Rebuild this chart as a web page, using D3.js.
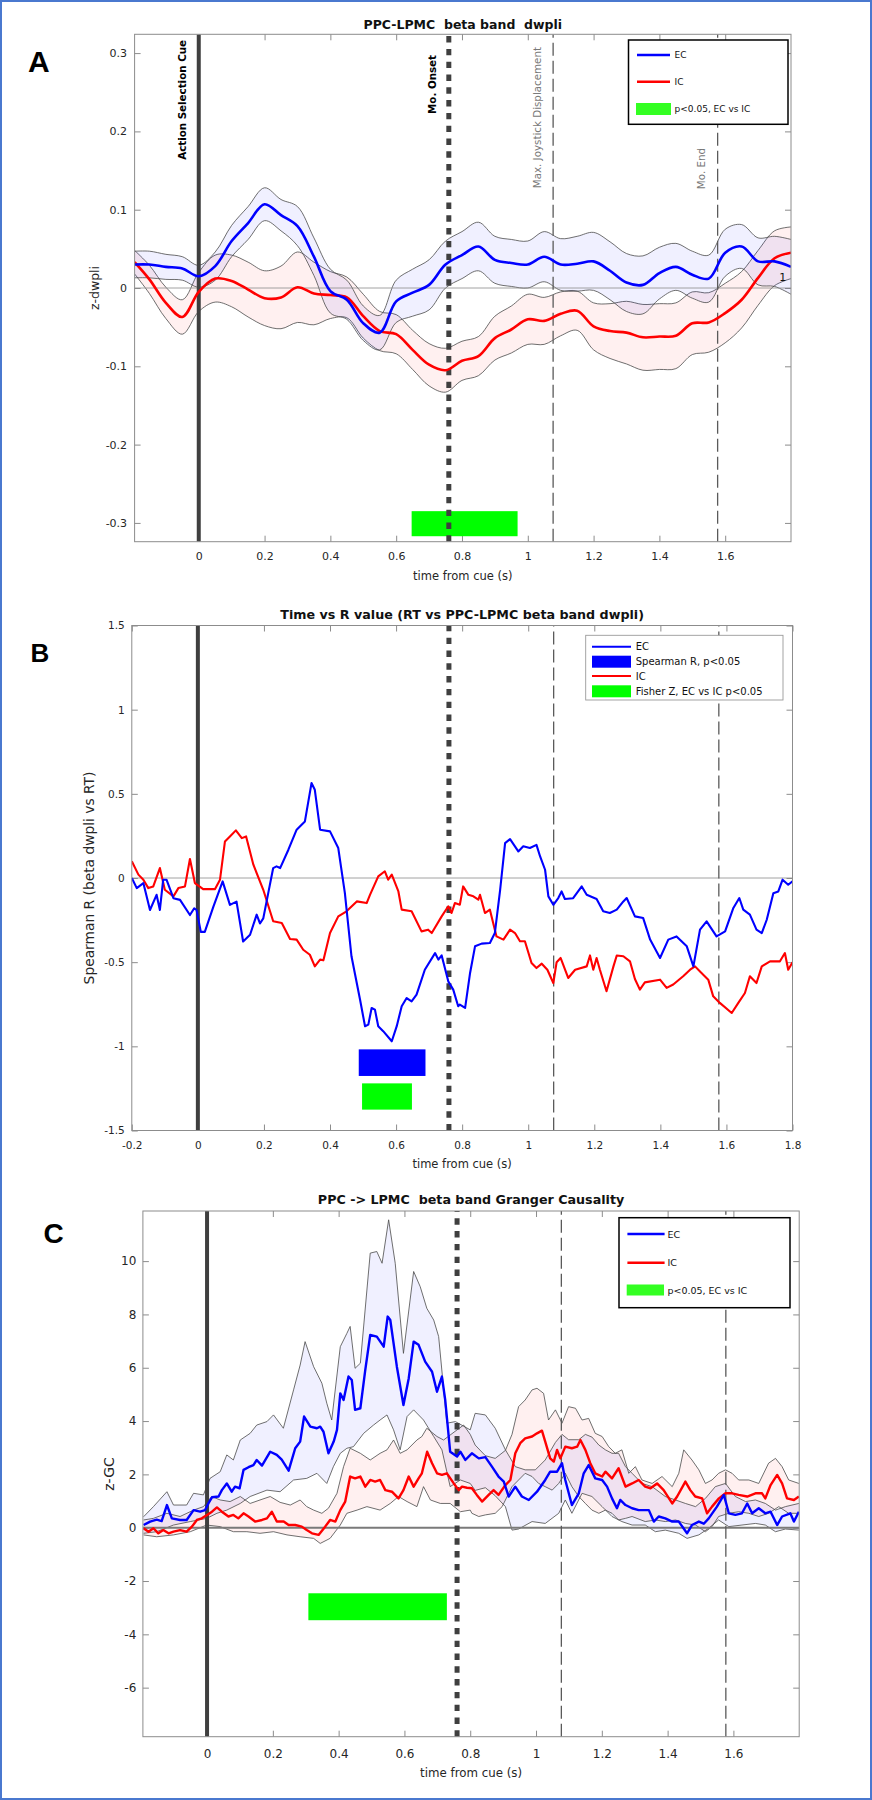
<!DOCTYPE html>
<html><head><meta charset="utf-8">
<script src="https://cdn.jsdelivr.net/npm/d3@7"></script>
<style>
body{margin:0;background:#fff}
text{font-family:'DejaVu Sans',sans-serif;white-space:pre}
</style></head>
<body><svg id="c" width="872" height="1800"></svg>
<script>
// ---------------- DATA ----------------
// Panel A : PPC-LPMC beta band dwpli
const aTime = [-0.195,-0.15,-0.1,-0.05,0,0.05,0.1,0.15,0.2,0.25,0.3,0.35,0.4,0.45,0.5,0.55,0.6,0.65,0.7,0.75,0.8,0.85,0.9,0.95,1.0,1.05,1.1,1.15,1.2,1.25,1.3,1.35,1.4,1.45,1.5,1.55,1.6,1.65,1.7,1.75,1.8];
const aEC = [0.030,0.030,0.027,0.025,0.015,0.028,0.060,0.083,0.107,0.093,0.079,0.040,-0.004,-0.015,-0.045,-0.057,-0.017,-0.006,0.004,0.030,0.042,0.053,0.036,0.032,0.030,0.040,0.030,0.031,0.034,0.022,0.007,0.004,0.019,0.027,0.017,0.012,0.045,0.053,0.034,0.034,0.027];
const aECsem = [0.017,0.017,0.016,0.015,0.014,0.018,0.020,0.021,0.021,0.020,0.025,0.024,0.028,0.025,0.022,0.022,0.027,0.030,0.032,0.030,0.030,0.031,0.030,0.030,0.030,0.032,0.033,0.035,0.037,0.037,0.037,0.037,0.033,0.030,0.030,0.030,0.030,0.028,0.030,0.032,0.035];
const aIC = [0.033,0.011,-0.019,-0.037,-0.005,0.012,0.009,-0.002,-0.013,-0.012,0.001,-0.007,-0.009,-0.012,-0.036,-0.055,-0.059,-0.079,-0.098,-0.105,-0.093,-0.087,-0.064,-0.053,-0.040,-0.042,-0.033,-0.029,-0.049,-0.055,-0.057,-0.063,-0.062,-0.061,-0.045,-0.044,-0.032,-0.015,0.013,0.038,0.045];
const aICsem = [0.015,0.018,0.020,0.022,0.025,0.030,0.033,0.035,0.035,0.040,0.045,0.040,0.030,0.026,0.028,0.025,0.025,0.025,0.027,0.028,0.025,0.025,0.028,0.030,0.032,0.030,0.028,0.025,0.030,0.035,0.040,0.042,0.042,0.042,0.040,0.038,0.038,0.036,0.035,0.035,0.033];
const aSig = [0.647, 0.969];          // p<0.05 window (s)
const aSigY = [-0.285, -0.317];
const aXTicks = [0,0.2,0.4,0.6,0.8,1,1.2,1.4,1.6];
const aYTicks = [-0.3,-0.2,-0.1,0,0.1,0.2,0.3];

// Panel B : Spearman R
const bEcT = [-0.2,-0.185,-0.165,-0.145,-0.125,-0.115,-0.105,-0.095,-0.074,-0.054,-0.024,-0.011,-0.004,0.009,0.021,0.047,0.075,0.097,0.117,0.137,0.158,0.178,0.188,0.198,0.213,0.228,0.238,0.249,0.274,0.299,0.324,0.344,0.354,0.370,0.400,0.425,0.445,0.465,0.491,0.506,0.516,0.526,0.536,0.546,0.561,0.587,0.602,0.617,0.632,0.647,0.662,0.687,0.718,0.728,0.738,0.758,0.773,0.788,
  0.793,0.809,0.824,0.839,0.859,0.884,0.899,0.915,0.930,0.945,0.970,0.985,1.005,1.025,1.036,1.051,1.061,1.076,1.091,1.101,1.111,1.136,1.162,1.177,1.207,1.227,1.247,1.268,1.288,1.298,1.323,1.348,1.369,1.399,1.424,1.449,1.480,1.500,1.520,1.540,1.570,1.596,1.621,1.639,1.651,1.671,1.691,1.707,1.722,1.742,1.757,1.770,1.787,1.8];
const bEcR = [0.0,-0.06,-0.03,-0.19,-0.10,-0.19,-0.01,-0.01,-0.12,-0.13,-0.22,-0.18,-0.19,-0.32,-0.32,-0.17,-0.02,-0.16,-0.14,-0.377,-0.337,-0.218,-0.27,-0.24,-0.09,0.059,0.069,0.059,0.168,0.287,0.336,0.564,0.524,0.287,0.277,0.178,-0.09,-0.465,-0.723,-0.881,-0.871,-0.772,-0.782,-0.881,-0.91,-0.97,-0.88,-0.762,-0.713,-0.733,-0.693,-0.545,-0.446,-0.485,-0.46,-0.614,-0.663,-0.762,
  -0.752,-0.772,-0.564,-0.406,-0.39,-0.386,-0.327,-0.07,0.207,0.231,0.158,0.188,0.178,0.197,0.128,0.049,-0.109,-0.159,-0.119,-0.08,-0.125,-0.12,-0.05,-0.1,-0.125,-0.198,-0.208,-0.188,-0.139,-0.119,-0.228,-0.238,-0.366,-0.475,-0.366,-0.347,-0.406,-0.525,-0.307,-0.258,-0.347,-0.317,-0.178,-0.119,-0.188,-0.218,-0.307,-0.327,-0.248,-0.09,-0.08,-0.01,-0.04,-0.02];
const bIcT = [-0.2,-0.180,-0.165,-0.150,-0.135,-0.115,-0.100,-0.074,-0.059,-0.039,-0.024,-0.009,0.016,0.052,0.067,0.082,0.097,0.115,0.133,0.146,0.168,0.198,0.228,0.254,0.279,0.299,0.319,0.339,0.354,0.370,0.380,0.400,0.425,0.450,0.481,0.511,0.521,0.546,0.566,0.576,0.587,0.607,0.617,0.647,0.677,0.697,0.708,0.738,0.758,0.768,0.778,0.793,
  0.803,0.819,0.834,0.849,0.854,0.869,0.884,0.904,0.925,0.945,0.960,0.975,0.990,1.010,1.025,1.041,1.058,1.076,1.086,1.098,1.121,1.142,1.177,1.187,1.197,1.207,1.217,1.237,1.258,1.268,1.288,1.308,1.323,1.338,1.353,1.399,1.419,1.439,1.469,1.490,1.505,1.520,1.545,1.560,1.580,1.616,1.636,1.656,1.671,1.691,1.707,1.732,1.762,1.777,1.787,1.8];
const bIcR = [0.099,0.02,-0.01,-0.06,-0.05,0.059,-0.07,-0.109,-0.06,-0.05,0.113,-0.03,-0.066,-0.066,-0.01,0.217,0.247,0.283,0.237,0.247,0.079,-0.07,-0.257,-0.267,-0.362,-0.366,-0.426,-0.456,-0.525,-0.485,-0.489,-0.327,-0.228,-0.198,-0.139,-0.149,-0.1,0.01,0.04,-0.01,0.02,-0.08,-0.188,-0.198,-0.317,-0.307,-0.327,-0.228,-0.168,-0.208,-0.149,-0.159,
  -0.05,-0.1,-0.109,-0.129,-0.1,-0.208,-0.188,-0.347,-0.366,-0.307,-0.327,-0.376,-0.376,-0.505,-0.535,-0.509,-0.545,-0.624,-0.5,-0.475,-0.594,-0.545,-0.525,-0.46,-0.545,-0.475,-0.545,-0.673,-0.525,-0.46,-0.465,-0.495,-0.6,-0.663,-0.62,-0.604,-0.653,-0.633,-0.584,-0.545,-0.525,-0.555,-0.604,-0.703,-0.742,-0.802,-0.742,-0.683,-0.584,-0.624,-0.525,-0.495,-0.495,-0.446,-0.545,-0.5];
const bSigSpearman = [0.487, 0.689], bSigSpearmanY = [-1.018, -1.176];
const bSigFisher = [0.497, 0.648], bSigFisherY = [-1.22, -1.376];
const bXTicks = [-0.2,0,0.2,0.4,0.6,0.8,1,1.2,1.4,1.6,1.8];
const bYTicks = [-1.5,-1,-0.5,0,0.5,1,1.5];

// Panel C : Granger causality
const cEcT = [-0.193,-0.173,-0.153,-0.138,-0.122,-0.107,-0.082,-0.062,-0.041,-0.021,-0.006,0.004,0.015,0.035,0.045,0.060,0.075,0.085,0.099,0.111,0.126,0.141,0.151,0.167,0.192,0.212,0.227,0.248,0.268,0.283,0.295,0.314,0.334,0.344,0.354,0.369,0.385,0.395,0.405,0.415,0.430,0.440,0.450,0.466,0.481,0.496,0.516,0.537,0.549,0.557,0.577,0.597,0.613,0.628,0.643,0.663,0.684,0.699,0.714,0.724,0.739,0.760,0.770,
  0.785,0.805,0.826,0.846,0.866,0.886,0.902,0.917,0.937,0.957,0.978,1.003,1.028,1.043,1.064,1.079,1.089,1.109,1.130,1.145,1.160,1.180,1.201,1.216,1.231,1.246,1.256,1.272,1.292,1.312,1.343,1.358,1.373,1.393,1.414,1.434,1.459,1.474,1.495,1.510,1.525,1.550,1.571,1.586,1.606,1.626,1.642,1.657,1.677,1.697,1.713,1.733,1.748,1.773,1.784,1.799];
const cEc = [0.10,0.23,0.30,0.25,0.85,0.35,0.29,0.29,0.66,0.60,0.66,0.91,1.14,1.17,1.41,1.66,1.35,1.54,1.48,2.17,2.27,2.35,2.54,2.33,2.85,2.73,2.55,2.14,2.98,3.23,4.17,3.79,3.73,3.79,3.60,2.79,3.23,3.67,5.04,4.79,5.67,5.54,4.42,4.48,5.92,7.23,7.17,6.79,7.92,7.79,6.04,4.60,5.60,6.98,6.86,6.23,5.85,5.10,5.67,4.79,2.85,2.67,2.85,
  2.54,2.79,2.60,2.65,2.29,1.92,1.73,1.17,1.54,1.17,1.04,1.35,1.79,2.10,2.10,2.42,1.79,0.85,1.29,2.04,2.35,1.85,1.79,1.54,1.10,0.73,1.04,0.85,0.73,0.66,0.66,0.23,0.42,0.35,0.23,0.23,-0.21,0.10,0.23,0.15,0.35,0.79,1.23,0.54,0.48,0.54,0.91,0.54,0.73,0.54,0.60,0.10,0.42,0.54,0.23,0.60];
const cIcT = [-0.193,-0.178,-0.163,-0.148,-0.133,-0.117,-0.102,-0.082,-0.062,-0.046,-0.031,-0.016,0.000,0.015,0.030,0.045,0.065,0.080,0.095,0.111,0.126,0.146,0.167,0.182,0.197,0.212,0.233,0.248,0.268,0.288,0.303,0.319,0.339,0.359,0.374,0.390,0.405,0.420,0.435,0.450,0.466,0.481,0.496,0.511,0.526,0.542,0.562,0.582,0.597,0.613,0.628,0.643,0.653,0.669,0.684,0.699,0.714,0.729,0.750,0.765,0.775,0.790,
  0.805,0.820,0.836,0.856,0.871,0.886,0.907,0.922,0.937,0.952,0.967,0.988,1.003,1.018,1.028,1.043,1.054,1.064,1.074,1.089,1.109,1.125,1.135,1.150,1.165,1.180,1.201,1.211,1.231,1.251,1.272,1.292,1.312,1.332,1.348,1.368,1.388,1.414,1.429,1.454,1.469,1.484,1.505,1.520,1.535,1.556,1.576,1.596,1.616,1.642,1.667,1.687,1.697,1.713,1.733,1.748,1.763,1.784,1.799];
const cIc = [-0.02,-0.15,-0.02,-0.21,-0.09,-0.21,-0.15,-0.09,-0.15,0.04,0.29,0.35,0.48,0.60,0.76,0.60,0.42,0.48,0.35,0.54,0.42,0.23,0.29,0.35,0.60,0.23,0.23,0.10,0.10,0.04,-0.09,-0.21,-0.27,0.04,0.29,0.23,0.66,0.98,1.92,1.85,1.92,1.54,1.79,1.73,1.79,1.41,1.35,1.10,1.41,1.92,1.54,1.85,2.04,2.85,2.42,2.04,1.98,2.04,1.66,1.41,1.54,1.50,
  1.48,1.23,0.98,1.23,1.41,1.23,1.60,1.79,2.79,3.17,3.35,3.42,3.54,3.64,3.23,2.60,2.48,2.92,2.60,3.04,2.98,3.04,3.29,2.92,2.42,2.04,1.92,2.10,1.85,2.23,1.54,1.66,1.79,1.54,1.48,1.66,1.41,0.91,1.17,1.73,1.41,1.17,1.10,0.54,0.79,1.10,1.29,1.29,1.23,1.17,1.29,1.29,1.10,1.60,1.98,1.66,1.10,1.04,1.17];
const cEcUpT = [-0.193,-0.163,-0.122,-0.102,-0.062,-0.041,-0.011,0.009,0.040,0.060,0.080,0.101,0.131,0.151,0.182,0.202,0.232,0.263,0.283,0.298,0.324,0.349,0.364,0.379,0.405,0.425,0.435,0.450,0.466,0.496,0.516,0.532,0.552,0.572,0.597,0.628,0.648,0.668,0.689,0.704,0.729,0.755,0.800,
  0.815,0.846,0.876,0.907,0.937,0.967,0.998,1.028,1.059,1.079,1.099,1.130,1.150,1.170,1.191,1.211,1.231,1.251,1.272,1.292,1.322,1.353,1.393,1.424,1.454,1.485,1.515,1.545,1.576,1.606,1.637,1.667,1.697,1.728,1.758,1.799];
const cEcUp = [0.41,0.79,1.35,0.85,0.85,1.29,1.23,1.85,2.10,2.73,2.54,3.29,3.54,3.85,3.98,4.23,3.73,5.17,6.10,6.98,6.04,5.42,4.67,4.04,6.79,7.29,7.55,5.98,6.17,10.30,10.36,9.92,11.55,9.92,6.54,9.61,9.04,8.23,7.79,7.17,3.92,3.98,3.67,
  4.29,4.23,3.73,2.92,2.29,2.17,2.17,2.54,3.20,3.50,3.30,3.30,3.50,3.40,3.10,2.92,2.79,2.79,2.29,2.04,1.66,1.54,1.17,1.04,0.91,0.79,1.10,1.54,1.66,1.17,0.98,1.04,0.91,0.66,0.79,0.91];
const cEcLoT = [-0.193,-0.153,-0.102,-0.051,-0.001,0.030,0.060,0.101,0.131,0.182,0.222,0.263,0.303,0.334,0.364,0.384,0.405,0.425,0.445,0.476,0.506,0.526,0.547,0.567,0.587,0.608,0.628,0.658,0.689,0.714,0.739,0.770,0.800,
  0.815,0.846,0.876,0.907,0.927,0.947,0.988,1.028,1.069,1.089,1.109,1.140,1.170,1.201,1.231,1.261,1.292,1.332,1.363,1.393,1.434,1.459,1.495,1.525,1.555,1.586,1.626,1.667,1.697,1.728,1.758,1.799];
const cEcLo = [-0.21,-0.15,0.10,0.23,0.35,0.54,0.66,0.91,1.17,1.41,1.35,1.79,1.85,2.04,1.66,2.29,2.79,2.98,3.04,3.54,3.85,4.04,4.23,3.67,2.92,4.17,4.42,4.04,3.42,2.92,1.54,1.79,1.66,
  1.40,1.50,1.20,0.79,-0.09,-0.05,0.23,0.16,0.54,1.04,0.54,1.29,1.17,0.79,0.42,0.23,0.10,0.10,-0.15,-0.09,-0.21,-0.40,-0.27,-0.02,0.29,0.04,0.10,0.16,0.10,-0.15,-0.05,-0.09];
const cIcUpT = [-0.193,-0.163,-0.122,-0.082,-0.041,-0.011,0.014,0.040,0.070,0.101,0.131,0.161,0.192,0.222,0.253,0.283,0.303,0.324,0.349,0.369,0.395,0.415,0.435,0.466,0.496,0.526,0.547,0.567,0.587,0.608,0.638,0.653,0.668,0.699,0.719,0.760,0.780,0.800,
  0.815,0.846,0.876,0.907,0.927,0.947,0.967,0.988,1.003,1.023,1.038,1.059,1.079,1.099,1.120,1.140,1.160,1.180,1.201,1.221,1.241,1.261,1.282,1.302,1.322,1.353,1.383,1.414,1.434,1.449,1.474,1.495,1.515,1.535,1.555,1.576,1.596,1.616,1.647,1.677,1.707,1.728,1.748,1.768,1.799];
const cIcUp = [0.29,0.35,0.54,0.42,0.66,0.79,1.17,1.04,0.98,1.17,0.91,1.04,1.17,0.95,0.85,1.04,0.79,0.66,0.54,0.73,1.29,2.29,2.98,2.79,2.54,2.79,2.92,3.29,2.79,2.92,3.29,3.42,3.73,3.42,3.29,3.67,3.85,3.50,
  3.10,2.70,2.60,2.90,3.50,4.54,4.79,5.17,5.23,5.04,4.04,4.42,3.92,4.54,4.48,4.04,4.10,3.54,3.42,3.04,2.79,2.92,2.04,2.29,1.79,1.66,1.92,1.54,2.04,2.92,2.54,2.17,1.66,1.79,2.04,2.17,2.04,1.79,1.79,1.66,2.42,2.60,2.29,1.79,1.66];
const cIcLoT = [-0.193,-0.153,-0.102,-0.051,-0.001,0.040,0.080,0.121,0.161,0.202,0.243,0.283,0.324,0.344,0.374,0.405,0.425,0.456,0.486,0.526,0.557,0.582,0.608,0.638,0.658,0.679,0.709,0.739,0.770,0.800,
  0.805,0.826,0.846,0.876,0.897,0.927,0.947,0.967,0.988,1.008,1.028,1.049,1.069,1.089,1.109,1.130,1.150,1.170,1.191,1.211,1.231,1.251,1.272,1.292,1.332,1.363,1.393,1.424,1.454,1.485,1.515,1.535,1.555,1.586,1.616,1.647,1.677,1.707,1.738,1.768,1.799];
const cIcLo = [-0.27,-0.34,-0.27,-0.15,0.10,0.04,-0.15,-0.15,-0.21,-0.15,-0.27,-0.34,-0.40,-0.59,-0.40,0.10,0.54,0.66,0.79,0.66,0.91,1.17,0.98,0.79,1.54,1.04,0.91,0.91,0.60,0.66,
  0.54,0.42,0.48,0.54,0.79,1.54,1.79,2.04,1.92,1.66,1.54,1.41,1.66,2.04,1.54,1.17,0.91,0.66,0.54,0.66,0.54,0.29,0.35,0.42,0.23,0.29,0.23,0.29,0.16,0.10,-0.15,0.04,0.42,0.54,0.60,0.54,0.42,0.54,0.79,0.54,0.54];
const cSig = [0.308, 0.729], cSigY = [-2.46, -3.47];
const cXTicks = [0,0.2,0.4,0.6,0.8,1,1.2,1.4,1.6];
const cYTicks = [-6,-4,-2,0,2,4,6,8,10];

// event markers (s)
const evCue = 0, evOnset = 0.76, evMaxJoy = 1.077, evEnd = 1.577;

// ---------------- DRAWING ----------------
const svg = d3.select("#c");
const BLUE = "#0000ff", RED = "#ff0000", GREEN = "#00ff00";
const fmt = d => String(d);

function makeAxes(id, xr, xd, yr, yd, xt, yt, o) {
  const g = svg.append("g");
  const x = d3.scaleLinear().domain(xd).range(xr);
  const y = d3.scaleLinear().domain(yd).range(yr);
  g.append("clipPath").attr("id", id).append("rect")
    .attr("x", xr[0]).attr("y", yr[1]).attr("width", xr[1]-xr[0]).attr("height", yr[0]-yr[1]);
  const axStyle = sel => {
    sel.select(".domain").remove();
    sel.selectAll(".tick line").attr("stroke", "#8c8c8c").attr("stroke-width", 1);
    sel.selectAll("text").attr("fill", "#262626").style("font-family", "'DejaVu Sans',sans-serif").attr("font-size", o.tickFs);
  };
  g.append("g").attr("transform", `translate(0,${yr[0]})`)
    .call(d3.axisBottom(x).tickValues(xt).tickFormat(fmt).tickSize(-6).tickPadding(o.xPad)).call(axStyle);
  g.append("g").attr("transform", `translate(0,${yr[1]})`)
    .call(d3.axisTop(x).tickValues(xt).tickFormat("").tickSize(-6)).call(axStyle);
  g.append("g").attr("transform", `translate(${xr[0]},0)`)
    .call(d3.axisLeft(y).tickValues(yt).tickFormat(fmt).tickSize(-6).tickPadding(o.yPad)).call(axStyle);
  g.append("g").attr("transform", `translate(${xr[1]},0)`)
    .call(d3.axisRight(y).tickValues(yt).tickFormat("").tickSize(-6)).call(axStyle);
  const plot = g.append("g").attr("clip-path", `url(#${id})`);
  const over = g.append("g");
  over.append("rect").attr("x", xr[0]).attr("y", yr[1]).attr("width", xr[1]-xr[0]).attr("height", yr[0]-yr[1])
    .attr("fill", "none").attr("stroke", "#8c8c8c").attr("stroke-width", 1);
  // title + labels
  const cx = (xr[0]+xr[1])/2;
  g.append("text").attr("x", cx).attr("y", o.titleY).attr("text-anchor", "middle").attr("dominant-baseline", "central")
    .attr("font-weight", "bold").attr("font-size", o.titleFs).attr("fill", "#111").text(o.title);
  g.append("text").attr("x", cx).attr("y", o.xLabY).attr("text-anchor", "middle").attr("dominant-baseline", "central")
    .attr("font-size", o.xLabFs).attr("fill", "#262626").text("time from cue (s)");
  g.append("text").attr("transform", `translate(${o.yLabX},${o.yLabY}) rotate(-90)`).attr("text-anchor", "middle")
    .attr("dominant-baseline", "central").attr("font-size", o.yLabFs).attr("fill", "#262626").text(o.yLab);
  g.append("text").attr("x", o.letter[0]).attr("y", o.letter[1]).attr("font-weight", "bold")
    .attr("font-size", o.letter[2]).style("font-family", "'Liberation Sans',Arial,sans-serif").attr("fill", "#000").text(o.letter[3]);
  return {g, x, y, plot, over, xr, yr};
}

function eventLines(P) {
  const {plot, x, yr} = P;
  const vl = (t, st, w, dash) => plot.append("line").attr("x1", x(t)).attr("x2", x(t)).attr("y1", yr[0]).attr("y2", yr[1])
    .attr("stroke", st).attr("stroke-width", w).attr("stroke-dasharray", dash || null);
  vl(evMaxJoy, "#5a5a5a", 1.3, "13,5");
  vl(evEnd, "#5a5a5a", 1.3, "13,5");
  vl(evCue, "#3f3f3f", 4);
  vl(evOnset, "#3f3f3f", 5, "6.4,6.4");
}

function zeroLine(P, w, col) {
  P.plot.append("line").attr("x1", P.xr[0]).attr("x2", P.xr[1]).attr("y1", P.y(0)).attr("y2", P.y(0))
    .attr("stroke", col).attr("stroke-width", w);
}

function sigRect(P, xs, ys, col) {
  P.plot.append("rect").attr("x", P.x(xs[0])).attr("width", P.x(xs[1]) - P.x(xs[0]))
    .attr("y", P.y(ys[0])).attr("height", P.y(ys[1]) - P.y(ys[0])).attr("fill", col);
}

// ---------- Panel A ----------
const A = makeAxes("clipA", [134.6, 791], [-0.195, 1.8], [541.7, 34.3], [-0.324, 0.324], aXTicks, aYTicks,
  {tickFs: 11, xPad: 11, yPad: 7.5, title: "PPC-LPMC  beta band  dwpli", titleY: 24.7, titleFs: 12.5,
   xLabY: 575.7, xLabFs: 11.5, yLab: "z-dwpli", yLabX: 94.5, yLabY: 288, yLabFs: 12.5, letter: [28, 71.7, 30, "A"]});
(function () {
  const {plot, x, y} = A;
  const curve = d3.curveCatmullRom;
  const band = (m, s, col) => {
    const idx = d3.range(aTime.length);
    plot.append("path").datum(idx).attr("fill", col).attr("fill-opacity", 0.06)
      .attr("d", d3.area().curve(curve).x(i => x(aTime[i])).y0(i => y(m[i] - s[i])).y1(i => y(m[i] + s[i])));
    [1, -1].forEach(k => plot.append("path").datum(idx).attr("fill", "none").attr("stroke", "#4a4a4a").attr("stroke-width", 0.8)
      .attr("d", d3.line().curve(curve).x(i => x(aTime[i])).y(i => y(m[i] + k * s[i]))));
  };
  sigRect(A, aSig, aSigY, GREEN);
  band(aIC, aICsem, RED);
  band(aEC, aECsem, BLUE);
  zeroLine(A, 0.8, "#8a8a8a");
  eventLines(A);
  const ln = (m, col) => plot.append("path").datum(d3.range(aTime.length)).attr("fill", "none").attr("stroke", col)
    .attr("stroke-width", 2.6).attr("d", d3.line().curve(curve).x(i => x(aTime[i])).y(i => y(m[i])));
  ln(aIC, RED); ln(aEC, BLUE);
  plot.append("text").attr("x", x(1.764)).attr("y", y(0.0135)).attr("dominant-baseline", "central")
    .attr("font-size", 11).attr("fill", "#111").text("1");
  // event labels
  const lab = (t, txt, bold, col, top) => A.g.append("text")
    .attr("transform", `translate(${x(t) - 12.5},${top}) rotate(-90)`).attr("text-anchor", "end")
    .attr("font-size", 10.3).attr("font-weight", bold ? "bold" : "normal").attr("fill", col).text(txt);
  lab(evCue, "Action Selection Cue", true, "#000", 40);
  lab(evOnset, "Mo. Onset", true, "#000", 55);
  lab(evMaxJoy, "Max. Joystick Displacement", false, "#777", 47);
  lab(evEnd, "Mo. End", false, "#777", 148);
  // legend
  const L = A.over;
  L.append("rect").attr("x", 628.5).attr("y", 40).attr("width", 159.5).attr("height", 84.3)
    .attr("fill", "#fff").attr("stroke", "#000").attr("stroke-width", 1.5);
  const ent = (yy, txt) => L.append("text").attr("x", 674.6).attr("y", yy).attr("dominant-baseline", "central")
    .attr("font-size", 9).attr("fill", "#111").text(txt);
  L.append("line").attr("x1", 637).attr("x2", 670).attr("y1", 55).attr("y2", 55).attr("stroke", BLUE).attr("stroke-width", 2.5);
  ent(55, "EC");
  L.append("line").attr("x1", 637).attr("x2", 670).attr("y1", 81.7).attr("y2", 81.7).attr("stroke", RED).attr("stroke-width", 2.5);
  ent(81.7, "IC");
  L.append("rect").attr("x", 636).attr("y", 103).attr("width", 35).attr("height", 12).attr("fill", "#33ff22");
  ent(109, "p<0.05, EC vs IC");
})();

// ---------- Panel B ----------
const B = makeAxes("clipB", [131.8, 792.5], [-0.2, 1.8], [1130.5, 625.5], [-1.5, 1.5], bXTicks, bYTicks,
  {tickFs: 10.5, xPad: 11.4, yPad: 7, title: "Time vs R value (RT vs PPC-LPMC beta band dwpli)", titleY: 614.3, titleFs: 12.7,
   xLabY: 1163.7, xLabFs: 11.5, yLab: "Spearman R (beta dwpli vs RT)", yLabX: 89, yLabY: 878, yLabFs: 13.8, letter: [30.5, 661.5, 26, "B"]});
(function () {
  const {plot, x, y} = B;
  sigRect(B, bSigSpearman, bSigSpearmanY, BLUE);
  sigRect(B, bSigFisher, bSigFisherY, GREEN);
  zeroLine(B, 0.8, "#8a8a8a");
  eventLines(B);
  const ln = (t, r, col) => plot.append("path").datum(d3.range(t.length)).attr("fill", "none").attr("stroke", col)
    .attr("stroke-width", 2.1).attr("stroke-linejoin", "round").attr("d", d3.line().x(i => x(t[i])).y(i => y(r[i])));
  ln(bIcT, bIcR, RED); ln(bEcT, bEcR, BLUE);
  const L = B.over;
  L.append("rect").attr("x", 585.7).attr("y", 635.3).attr("width", 197.3).attr("height", 64.7)
    .attr("fill", "#fff").attr("stroke", "#9a9a9a").attr("stroke-width", 0.9);
  const ent = (yy, txt) => L.append("text").attr("x", 635.7).attr("y", yy).attr("dominant-baseline", "central")
    .attr("font-size", 10).attr("fill", "#111").text(txt);
  L.append("line").attr("x1", 592).attr("x2", 631).attr("y1", 646.7).attr("y2", 646.7).attr("stroke", BLUE).attr("stroke-width", 2);
  ent(646.7, "EC");
  L.append("rect").attr("x", 592).attr("y", 655.7).attr("width", 39).attr("height", 12).attr("fill", BLUE);
  ent(661.7, "Spearman R, p<0.05");
  L.append("line").attr("x1", 592).attr("x2", 631).attr("y1", 676).attr("y2", 676).attr("stroke", RED).attr("stroke-width", 2);
  ent(676, "IC");
  L.append("rect").attr("x", 592).attr("y", 685.3).attr("width", 39).attr("height", 12).attr("fill", GREEN);
  ent(691.3, "Fisher Z, EC vs IC p<0.05");
})();

// ---------- Panel C ----------
const C = makeAxes("clipC", [142.9, 799.2], [-0.195, 1.8], [1736.7, 1211], [-7.84, 11.88], cXTicks, cYTicks,
  {tickFs: 12, xPad: 12.3, yPad: 6.6, title: "PPC -> LPMC  beta band Granger Causality", titleY: 1199.3, titleFs: 12.7,
   xLabY: 1773.3, xLabFs: 11.8, yLab: "z-GC", yLabX: 108.5, yLabY: 1474, yLabFs: 14, letter: [43.5, 1242.7, 28, "C"]});
(function () {
  const {plot, x, y} = C;
  const pts = (t, v) => t.map((d, i) => [x(d), y(v[i])]);
  const poly = (ut, u, lt, l, col) => {
    const up = pts(ut, u), lo = pts(lt, l).reverse();
    plot.append("path").attr("d", d3.line()(up.concat(lo)) + "Z").attr("fill", col).attr("fill-opacity", 0.06);
  };
  const edge = (t, v) => plot.append("path").attr("d", d3.line()(pts(t, v))).attr("fill", "none")
    .attr("stroke", "#4a4a4a").attr("stroke-width", 0.8);
  sigRect(C, cSig, cSigY, GREEN);
  poly(cEcUpT, cEcUp, cEcLoT, cEcLo, BLUE);
  poly(cIcUpT, cIcUp, cIcLoT, cIcLo, RED);
  edge(cEcUpT, cEcUp); edge(cEcLoT, cEcLo); edge(cIcUpT, cIcUp); edge(cIcLoT, cIcLo);
  zeroLine(C, 2, "#7a7a7a");
  eventLines(C);
  const ln = (t, r, col) => plot.append("path").attr("fill", "none").attr("stroke", col)
    .attr("stroke-width", 2.4).attr("stroke-linejoin", "round").attr("d", d3.line()(pts(t, r)));
  ln(cIcT, cIc, RED); ln(cEcT, cEc, BLUE);
  const L = C.over;
  L.append("rect").attr("x", 619).attr("y", 1217.7).attr("width", 171).attr("height", 90)
    .attr("fill", "#fff").attr("stroke", "#000").attr("stroke-width", 1.5);
  const ent = (yy, txt) => L.append("text").attr("x", 667.4).attr("y", yy).attr("dominant-baseline", "central")
    .attr("font-size", 9.5).attr("fill", "#111").text(txt);
  L.append("line").attr("x1", 627.4).attr("x2", 664.6).attr("y1", 1234).attr("y2", 1234).attr("stroke", BLUE).attr("stroke-width", 2.5);
  ent(1234, "EC");
  L.append("line").attr("x1", 627.4).attr("x2", 664.6).attr("y1", 1262.7).attr("y2", 1262.7).attr("stroke", RED).attr("stroke-width", 2.5);
  ent(1262.7, "IC");
  L.append("rect").attr("x", 626.7).attr("y", 1284.5).attr("width", 37.3).attr("height", 11).attr("fill", "#33ff22");
  ent(1290, "p<0.05, EC vs IC");
})();

// outer frame
svg.append("rect").attr("x", 1).attr("y", 1).attr("width", 870).attr("height", 1798)
  .attr("fill", "none").attr("stroke", "#4a78cf").attr("stroke-width", 2);
</script>
</body></html>
